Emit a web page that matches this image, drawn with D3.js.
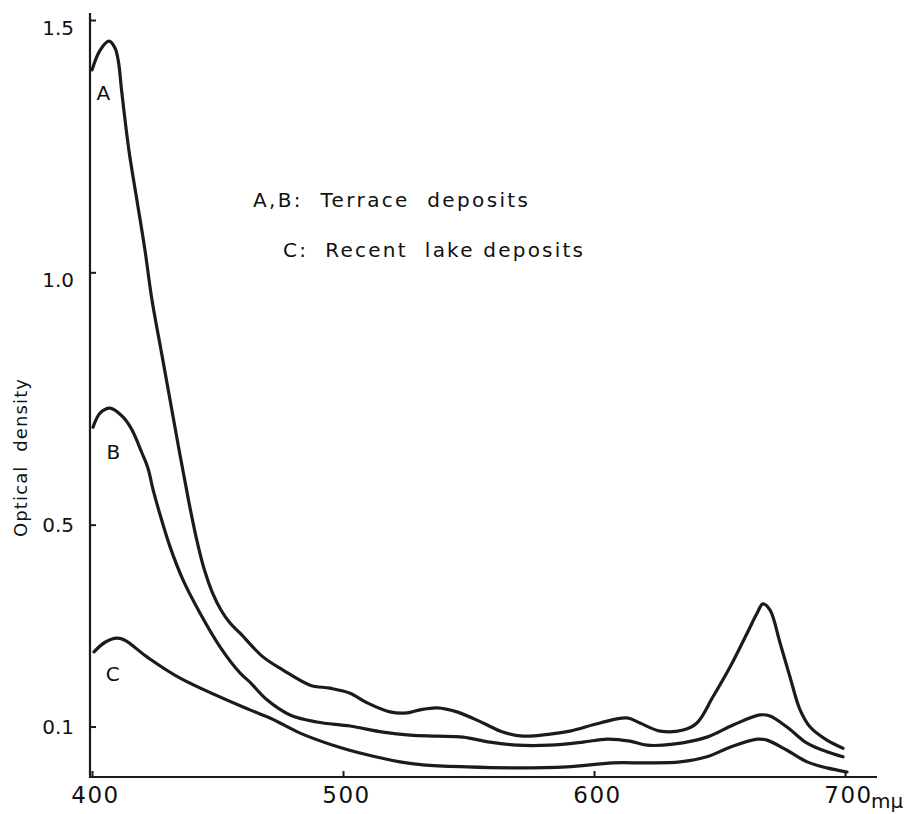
<!DOCTYPE html>
<html>
<head>
<meta charset="utf-8">
<script src="https://cdn.jsdelivr.net/npm/d3@7"></script>
<style>
  html, body { margin: 0; padding: 0; background: #fff; }
  svg { display: block; }
  text { font-family: "DejaVu Sans", "Liberation Sans", sans-serif; fill: #111; }
</style>
</head>
<body>
<svg id="chart" width="908" height="814"></svg>
<script>
// ---- data (wavelength in mμ, optical density) ----
const wavelengthA = [400,403.2,406.8,409.2,410.6,411.8,414.7,417.9,421.1,423.9,427.5,431.1,434.7,438.2,441.5,444.8,448.0,451.5,455.0,459.0,468.1,476.1,486.9,494.8,502.8,509.6,518.7,525.5,530.7,537.5,545.4,555.8,563.7,571.7,582.5,590.4,602.4,613.1,618.3,626.3,635.5,641.0,647.4,654.2,661.0,665.0,667.3,670.1,674.1,678.1,682.1,686.1,692.8,699.2];
const densityA    = [1.401,1.440,1.458,1.444,1.415,1.360,1.242,1.143,1.044,0.945,0.846,0.747,0.648,0.555,0.475,0.410,0.365,0.330,0.305,0.285,0.238,0.212,0.182,0.176,0.166,0.147,0.129,0.127,0.133,0.137,0.129,0.107,0.089,0.081,0.085,0.091,0.107,0.117,0.107,0.091,0.093,0.107,0.159,0.218,0.285,0.325,0.343,0.331,0.266,0.198,0.133,0.099,0.073,0.057];

const wavelengthB = [400.4,403.2,407.2,412.4,415.9,419.9,422.3,424.3,427.1,431.1,436.3,443.0,451.0,459.0,462.9,469.7,478.9,489.6,502.8,515.9,526.7,537.5,547.8,558.6,569.3,582.5,595.6,605.2,614.3,621.1,631.5,645.0,655.4,666.1,670.1,676.9,684.9,692.8,699.2];
const densityB    = [0.693,0.721,0.731,0.713,0.688,0.642,0.612,0.570,0.520,0.456,0.390,0.325,0.258,0.206,0.188,0.153,0.123,0.109,0.101,0.089,0.083,0.081,0.079,0.069,0.063,0.063,0.069,0.075,0.071,0.063,0.065,0.079,0.103,0.123,0.121,0.099,0.067,0.050,0.040];

const wavelengthC = [400.8,405.2,410.0,413.1,421.9,435.1,462.9,470.9,482.9,496.0,509.6,522.7,531.9,549.4,569.3,589.2,607.6,621.1,634.3,645.0,654.2,665.0,668.9,676.9,684.9,692.8,700.8];
const densityC    = [0.248,0.267,0.275,0.271,0.238,0.196,0.133,0.117,0.087,0.063,0.044,0.030,0.024,0.020,0.018,0.020,0.028,0.028,0.030,0.040,0.059,0.075,0.073,0.053,0.030,0.018,0.010];

const seriesNames = ["A", "B", "C"];
const xTickValues = [400, 500, 600, 700];
const xTickLabels = ["400", "500", "600", "700"];
const yTickValues = [0.1, 0.5, 1.0, 1.5];
const yTickLabels = ["0.1", "0.5", "1.0", "1.5"];
const legendLines = ["A,B:  Terrace  deposits", "C:  Recent  lake deposits"];
const yTitle = "Optical  density";
const xUnit = "mμ";

// ---- drawing ----
const svg = d3.select("#chart");
const x = d3.scaleLinear().domain([400, 700]).range([92, 845]);
const y = d3.scaleLinear().domain([0, 1.5]).range([777, 20]);
const ink = "#1b1b1b";

// axis lines
svg.append("line").attr("x1", 90).attr("x2", 90).attr("y1", 13).attr("y2", 778)
  .attr("stroke", ink).attr("stroke-width", 2.2);
svg.append("line").attr("x1", 89).attr("x2", 877).attr("y1", 777).attr("y2", 777)
  .attr("stroke", ink).attr("stroke-width", 2.2);

// y axis (ticks pointing inward)
const yAxis = d3.axisLeft(y).tickValues(yTickValues)
  .tickFormat((d, i) => yTickLabels[i]).tickSizeInner(-6).tickSizeOuter(0).tickPadding(16);
const gy = svg.append("g").attr("transform", "translate(90,0)").call(yAxis);
gy.select(".domain").remove();
gy.selectAll(".tick line").attr("stroke", ink).attr("stroke-width", 2);
gy.selectAll(".tick text").attr("font-size", 20).attr("fill", "#111")
  .attr("font-family", "DejaVu Sans, sans-serif")
  .attr("dy", (d) => d >= 1 ? "0.72em" : "0.35em");

// x axis (ticks pointing inward)
const xAxis = d3.axisBottom(x).tickValues(xTickValues)
  .tickFormat((d, i) => xTickLabels[i]).tickSizeInner(-6).tickSizeOuter(0).tickPadding(10);
const gx = svg.append("g").attr("transform", "translate(0,777)").call(xAxis);
gx.select(".domain").remove();
gx.selectAll(".tick line").attr("stroke", ink).attr("stroke-width", 2);
gx.selectAll(".tick text").attr("font-size", 23).attr("fill", "#111")
  .attr("font-family", "DejaVu Sans, sans-serif")
  .attr("letter-spacing", 1.5).attr("dx", 3);

// unit after 700
svg.append("text").attr("x", x(700) + 26).attr("y", 808)
  .attr("font-size", 20).text(xUnit);

// y title
svg.append("text")
  .attr("transform", "translate(27,458) rotate(-90)")
  .attr("text-anchor", "middle").attr("font-size", 18)
  .attr("textLength", 158).attr("lengthAdjust", "spacing")
  .attr("xml:space", "preserve")
  .text(yTitle);

// curves
const line = d3.line().x(d => x(d[0])).y(d => y(d[1])).curve(d3.curveCatmullRom.alpha(0.5));
const curves = [
  d3.zip(wavelengthA, densityA),
  d3.zip(wavelengthB, densityB),
  d3.zip(wavelengthC, densityC)
];
svg.append("g").selectAll("path").data(curves).join("path")
  .attr("d", line).attr("fill", "none").attr("stroke", ink)
  .attr("stroke-width", 3.2).attr("stroke-linecap", "round").attr("stroke-linejoin", "round");

// curve letters
const letterPos = [[404.5, 1.355], [408.5, 0.645], [408.3, 0.205]];
svg.append("g").selectAll("text").data(seriesNames).join("text")
  .attr("x", (d, i) => x(letterPos[i][0])).attr("y", (d, i) => y(letterPos[i][1]))
  .attr("text-anchor", "middle").attr("dy", "0.36em").attr("font-size", 20)
  .text(d => d);

// legend text
const legendX = [253, 283];
const legendY = [207, 257];
const legendW = [275, 300];
svg.append("g").selectAll("text").data(legendLines).join("text")
  .attr("x", (d, i) => legendX[i]).attr("y", (d, i) => legendY[i])
  .attr("font-size", 20).attr("xml:space", "preserve")
  .attr("textLength", (d, i) => legendW[i]).attr("lengthAdjust", "spacing")
  .text(d => d);
</script>
</body>
</html>
